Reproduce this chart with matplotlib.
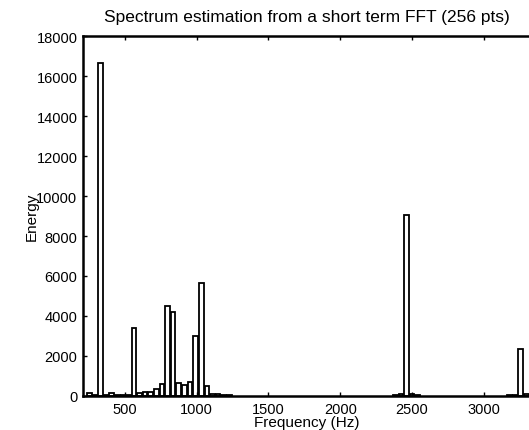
import matplotlib
matplotlib.use("Agg")
import matplotlib.pyplot as plt

# Short-term FFT spectrum: bin centre frequencies (Hz) and energies
freqs = [251, 290, 329, 368, 407, 446, 485, 524, 563, 602, 641, 680, 719, 758,
         797, 836, 875, 914, 953, 993, 1032, 1071, 1110, 1149, 1188, 1227,
         2383, 2422, 2461, 2500, 2539, 3180, 3219, 3258, 3297]
energy = [150, 30, 16650, 60, 150, 40, 30, 60, 3400, 150, 180, 220, 350, 600,
          4500, 4200, 650, 550, 680, 3000, 5650, 490, 120, 100, 60, 40,
          40, 120, 9050, 100, 30, 40, 60, 2350, 120]

xticks = [500, 1000, 1500, 2000, 2500, 3000]
yticks = list(range(0, 18001, 2000))

plt.rcParams['font.family'] = ['Liberation Sans', 'DejaVu Sans']

fig = plt.figure(figsize=(5.29, 4.31), dpi=100)
ax = fig.add_axes([0.157, 0.079, 0.847, 0.835])

ax.bar(freqs, energy, width=32, facecolor='white', edgecolor='black',
       linewidth=1.3, align='center')

ax.set_xlim(208, 3330)
ax.set_ylim(0, 18000)
ax.set_xticks(xticks)
ax.set_yticks(yticks)
ax.tick_params(direction='in', length=3, width=1, top=True, right=False,
               labelsize=10.5, pad=4)
for s in ax.spines.values():
    s.set_linewidth(1.8)

ax.set_title('Spectrum estimation from a short term FFT (256 pts)',
             fontsize=12.5, pad=10.5)
ax.set_xlabel('Frequency (Hz)', fontsize=11, labelpad=-0.5)
ax.set_ylabel('Energy', fontsize=11, labelpad=-2)

fig.savefig('out.png', dpi=100)
